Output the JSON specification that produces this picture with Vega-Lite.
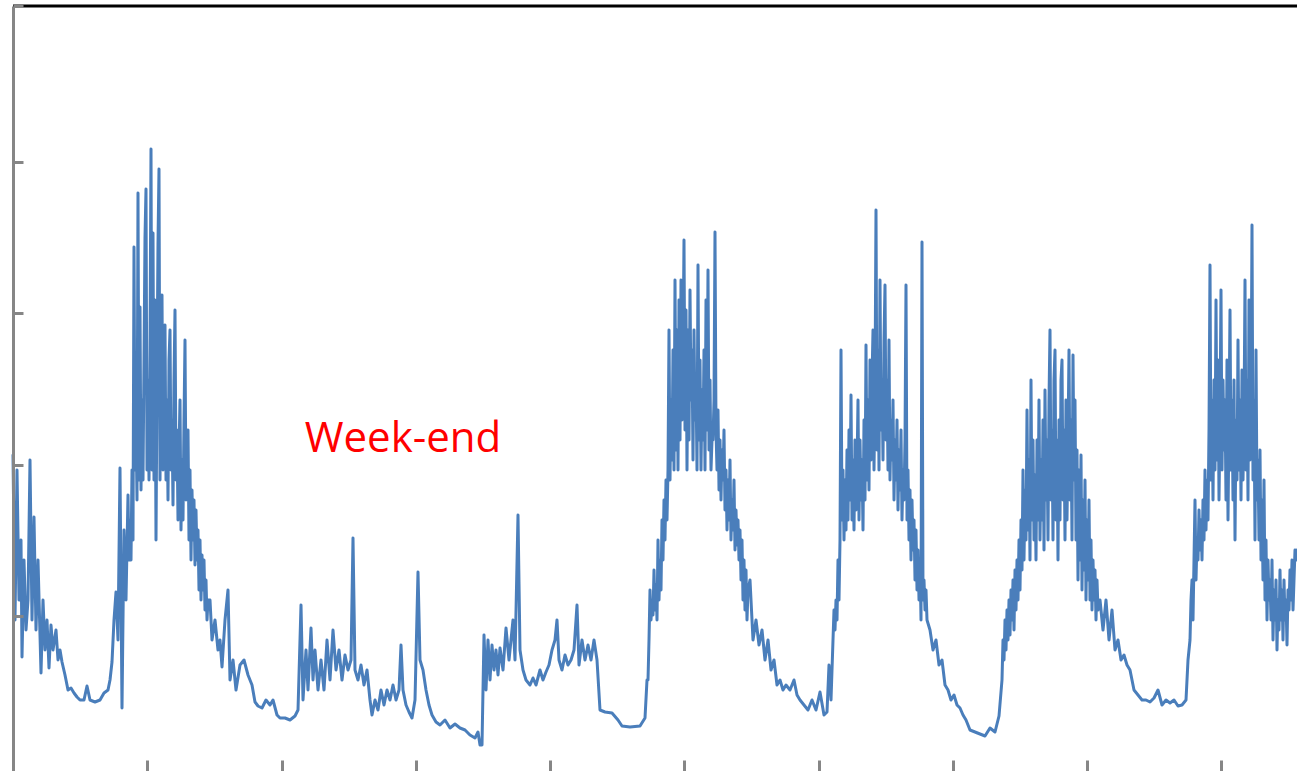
{
  "$schema": "https://vega.github.io/schema/vega-lite/v6.json",
  "width": 1284,
  "height": 766,
  "autosize": {"type": "none"},
  "padding": {"left": 13, "top": 6, "right": 0, "bottom": 0},
  "background": "white",
  "config": {"view": {"stroke": null}},
  "layer": [
    {
      "data": {"values": [{}]},
      "mark": {"type": "rule", "color": "black", "strokeWidth": 3},
      "encoding": {
        "y": {"datum": 1524, "type": "quantitative", "scale": {"domain": [-8, 1524], "nice": false, "zero": false},
          "axis": {"title": null, "labels": false, "grid": false, "domain": true, "domainColor": "#868686", "domainWidth": 3, "ticks": true, "tickSize": -10, "tickWidth": 3, "tickColor": "#868686", "values": [304, 606, 910, 1212, 1524], "zindex": 1}}
      }
    },
    {
      "data": {"values": [
{"t":0,"v":626},{"t":16,"v":296},{"t":32,"v":596},{"t":48,"v":336},{"t":64,"v":456},{"t":72,"v":222},{"t":88,"v":416},{"t":104,"v":276},{"t":120,"v":336},{"t":136,"v":616},{"t":152,"v":296},{"t":168,"v":502},{"t":184,"v":276},{"t":200,"v":416},{"t":224,"v":190},{"t":240,"v":336},{"t":256,"v":236},{"t":272,"v":296},{"t":288,"v":200},{"t":304,"v":286},{"t":320,"v":236},{"t":344,"v":276},{"t":360,"v":216},{"t":376,"v":236},{"t":392,"v":212},{"t":416,"v":186},{"t":440,"v":156},{"t":464,"v":160},{"t":488,"v":150},{"t":512,"v":142},{"t":536,"v":136},{"t":568,"v":136},{"t":592,"v":164},{"t":616,"v":136},{"t":656,"v":132},{"t":696,"v":136},{"t":728,"v":150},{"t":760,"v":156},{"t":776,"v":176},{"t":792,"v":212},{"t":808,"v":296},{"t":824,"v":352},{"t":840,"v":256},{"t":856,"v":600},{"t":872,"v":120},{"t":888,"v":476},{"t":904,"v":336},
{"t":920,"v":546},{"t":928,"v":416},{"t":936,"v":496},{"t":944,"v":416},{"t":952,"v":596},{"t":960,"v":456},{"t":968,"v":1042},{"t":976,"v":596},{"t":984,"v":696},{"t":992,"v":536},{"t":1000,"v":1150},{"t":1008,"v":576},{"t":1016,"v":922},{"t":1024,"v":556},{"t":1032,"v":736},{"t":1040,"v":576},{"t":1048,"v":816},{"t":1056,"v":1062},{"t":1064,"v":1158},{"t":1072,"v":596},{"t":1080,"v":776},{"t":1088,"v":576},{"t":1096,"v":836},{"t":1104,"v":1238},{"t":1112,"v":596},{"t":1120,"v":1070},{"t":1128,"v":576},{"t":1136,"v":936},{"t":1144,"v":456},{"t":1152,"v":776},{"t":1160,"v":1050},{"t":1168,"v":1198},{"t":1176,"v":576},{"t":1184,"v":816},{"t":1192,"v":946},{"t":1200,"v":596},{"t":1208,"v":776},{"t":1216,"v":886},{"t":1224,"v":576},{"t":1232,"v":736},{"t":1240,"v":536},{"t":1248,"v":816},{"t":1256,"v":876},{"t":1264,"v":596},{"t":1272,"v":696},{"t":1280,"v":526},{"t":1288,"v":776},{"t":1296,"v":916},{"t":1304,"v":576},{"t":1312,"v":676},{"t":1320,"v":496},{"t":1328,"v":636},{"t":1336,"v":736},{"t":1344,"v":476},{"t":1352,"v":616},{"t":1360,"v":496},{"t":1368,"v":696},{"t":1376,"v":856},{"t":1384,"v":536},{"t":1392,"v":636},{"t":1400,"v":676},{"t":1408,"v":456},{"t":1416,"v":596},{"t":1424,"v":416},{"t":1432,"v":556},{"t":1440,"v":456},{"t":1448,"v":536},{"t":1456,"v":406},{"t":1464,"v":516},{"t":1472,"v":416},{"t":1480,"v":476},{"t":1488,"v":356},{"t":1496,"v":456},{"t":1504,"v":336},{"t":1512,"v":426},{"t":1520,"v":356},{"t":1528,"v":416},{"t":1536,"v":316},{"t":1544,"v":376},{"t":1552,"v":296},{"t":1560,"v":336},
{"t":1576,"v":336},{"t":1592,"v":256},{"t":1616,"v":296},{"t":1640,"v":236},{"t":1656,"v":256},{"t":1672,"v":202},{"t":1696,"v":296},{"t":1720,"v":356},{"t":1736,"v":176},{"t":1760,"v":216},{"t":1784,"v":156},{"t":1816,"v":206},{"t":1848,"v":216},{"t":1880,"v":186},{"t":1912,"v":166},{"t":1936,"v":132},{"t":1960,"v":124},{"t":1992,"v":120},{"t":2024,"v":136},{"t":2056,"v":126},{"t":2080,"v":136},{"t":2112,"v":106},{"t":2136,"v":100},{"t":2176,"v":100},{"t":2216,"v":96},{"t":2256,"v":104},{"t":2280,"v":116},
{"t":2304,"v":326},{"t":2320,"v":136},{"t":2344,"v":236},{"t":2360,"v":156},{"t":2384,"v":280},{"t":2400,"v":176},{"t":2416,"v":236},{"t":2440,"v":156},{"t":2464,"v":216},{"t":2488,"v":156},{"t":2512,"v":256},{"t":2536,"v":176},{"t":2560,"v":276},{"t":2584,"v":196},{"t":2608,"v":236},{"t":2632,"v":176},{"t":2656,"v":226},{"t":2680,"v":196},{"t":2704,"v":216},{"t":2720,"v":460},{"t":2736,"v":196},{"t":2760,"v":176},{"t":2784,"v":206},{"t":2808,"v":166},{"t":2832,"v":196},{"t":2856,"v":136},{"t":2872,"v":106},{"t":2896,"v":136},{"t":2920,"v":116},{"t":2944,"v":156},{"t":2968,"v":126},{"t":2992,"v":156},{"t":3016,"v":136},{"t":3040,"v":166},{"t":3064,"v":136},{"t":3088,"v":156},{"t":3104,"v":246},{"t":3120,"v":156},{"t":3144,"v":126},{"t":3168,"v":112},{"t":3192,"v":100},{"t":3216,"v":136},{"t":3240,"v":392},{"t":3256,"v":216},{"t":3280,"v":196},{"t":3304,"v":156},{"t":3328,"v":126},{"t":3352,"v":106},{"t":3384,"v":92},{"t":3416,"v":86},{"t":3456,"v":96},{"t":3496,"v":80},{"t":3536,"v":88},{"t":3576,"v":80},{"t":3616,"v":76},{"t":3656,"v":66},{"t":3696,"v":60},{"t":3720,"v":72},{"t":3736,"v":46},{"t":3752,"v":46},{"t":3768,"v":266},
{"t":3784,"v":156},{"t":3800,"v":256},{"t":3816,"v":176},{"t":3832,"v":246},{"t":3848,"v":196},{"t":3864,"v":236},{"t":3880,"v":186},{"t":3896,"v":240},{"t":3920,"v":196},{"t":3944,"v":280},{"t":3968,"v":216},{"t":3984,"v":256},{"t":4000,"v":296},{"t":4016,"v":216},{"t":4040,"v":506},{"t":4056,"v":236},{"t":4080,"v":196},{"t":4104,"v":176},{"t":4136,"v":166},{"t":4160,"v":180},{"t":4184,"v":166},{"t":4216,"v":196},{"t":4240,"v":176},{"t":4264,"v":192},{"t":4288,"v":206},{"t":4312,"v":236},{"t":4336,"v":256},{"t":4352,"v":296},{"t":4368,"v":216},{"t":4392,"v":196},{"t":4416,"v":226},{"t":4440,"v":206},{"t":4464,"v":216},{"t":4488,"v":236},{"t":4512,"v":326},{"t":4528,"v":206},{"t":4552,"v":256},{"t":4576,"v":216},{"t":4600,"v":246},{"t":4624,"v":216},{"t":4648,"v":256},{"t":4672,"v":216},{"t":4696,"v":116},{"t":4736,"v":112},{"t":4792,"v":110},{"t":4840,"v":96},{"t":4872,"v":84},{"t":4936,"v":82},{"t":5016,"v":84},{"t":5056,"v":100},{"t":5072,"v":176},
{"t":5080,"v":176},{"t":5088,"v":256},{"t":5096,"v":356},{"t":5104,"v":296},{"t":5112,"v":336},{"t":5120,"v":306},{"t":5128,"v":396},{"t":5136,"v":316},{"t":5144,"v":366},{"t":5152,"v":296},{"t":5160,"v":456},{"t":5168,"v":336},{"t":5176,"v":416},{"t":5184,"v":356},{"t":5192,"v":496},{"t":5200,"v":416},{"t":5208,"v":536},{"t":5216,"v":456},{"t":5224,"v":576},{"t":5232,"v":496},{"t":5240,"v":596},{"t":5248,"v":876},{"t":5256,"v":576},{"t":5264,"v":736},{"t":5272,"v":616},{"t":5280,"v":836},{"t":5288,"v":596},{"t":5296,"v":976},{"t":5304,"v":636},{"t":5312,"v":876},{"t":5320,"v":596},{"t":5328,"v":936},{"t":5336,"v":656},{"t":5344,"v":976},{"t":5352,"v":696},{"t":5360,"v":816},{"t":5368,"v":1056},{"t":5376,"v":676},{"t":5384,"v":916},{"t":5392,"v":596},{"t":5400,"v":876},{"t":5408,"v":656},{"t":5416,"v":956},{"t":5424,"v":736},{"t":5432,"v":836},{"t":5440,"v":616},{"t":5448,"v":876},{"t":5456,"v":696},{"t":5464,"v":776},{"t":5472,"v":596},{"t":5480,"v":1006},{"t":5488,"v":656},{"t":5496,"v":816},{"t":5504,"v":596},{"t":5512,"v":756},{"t":5520,"v":656},{"t":5528,"v":836},{"t":5536,"v":596},{"t":5544,"v":936},{"t":5552,"v":676},{"t":5560,"v":996},{"t":5568,"v":636},{"t":5576,"v":776},{"t":5584,"v":596},{"t":5592,"v":656},{"t":5600,"v":656},{"t":5608,"v":736},{"t":5616,"v":1072},{"t":5624,"v":676},{"t":5632,"v":596},{"t":5640,"v":716},{"t":5648,"v":556},{"t":5656,"v":656},{"t":5664,"v":536},{"t":5672,"v":636},{"t":5680,"v":576},{"t":5688,"v":676},{"t":5696,"v":516},{"t":5704,"v":596},{"t":5712,"v":476},{"t":5720,"v":576},{"t":5728,"v":496},{"t":5736,"v":616},{"t":5744,"v":456},{"t":5752,"v":536},{"t":5760,"v":476},{"t":5768,"v":576},{"t":5776,"v":436},{"t":5784,"v":516},{"t":5792,"v":446},{"t":5800,"v":496},{"t":5808,"v":416},{"t":5816,"v":476},{"t":5824,"v":376},{"t":5832,"v":456},{"t":5840,"v":336},{"t":5848,"v":416},{"t":5856,"v":316},{"t":5864,"v":396},{"t":5872,"v":296},{"t":5880,"v":356},{"t":5896,"v":376},
{"t":5920,"v":256},{"t":5944,"v":296},{"t":5968,"v":246},{"t":5992,"v":276},{"t":6016,"v":216},{"t":6040,"v":256},{"t":6064,"v":196},{"t":6088,"v":216},{"t":6112,"v":166},{"t":6136,"v":176},{"t":6160,"v":156},{"t":6184,"v":166},{"t":6216,"v":156},{"t":6248,"v":176},{"t":6272,"v":146},{"t":6296,"v":136},{"t":6328,"v":126},{"t":6360,"v":116},{"t":6392,"v":136},{"t":6424,"v":116},{"t":6456,"v":152},{"t":6488,"v":106},{"t":6512,"v":112},{"t":6528,"v":206},{"t":6544,"v":136},
{"t":6560,"v":256},{"t":6568,"v":316},{"t":6576,"v":276},{"t":6584,"v":336},{"t":6592,"v":296},{"t":6600,"v":416},{"t":6608,"v":336},{"t":6616,"v":456},{"t":6624,"v":836},{"t":6632,"v":496},{"t":6640,"v":596},{"t":6648,"v":456},{"t":6656,"v":576},{"t":6664,"v":476},{"t":6672,"v":636},{"t":6680,"v":496},{"t":6688,"v":676},{"t":6696,"v":536},{"t":6704,"v":746},{"t":6712,"v":496},{"t":6720,"v":616},{"t":6728,"v":476},{"t":6736,"v":656},{"t":6744,"v":516},{"t":6752,"v":596},{"t":6760,"v":736},{"t":6768,"v":496},{"t":6776,"v":656},{"t":6784,"v":536},{"t":6792,"v":616},{"t":6800,"v":476},{"t":6808,"v":696},{"t":6816,"v":536},{"t":6824,"v":846},{"t":6832,"v":576},{"t":6840,"v":736},{"t":6848,"v":556},{"t":6856,"v":816},{"t":6864,"v":616},{"t":6872,"v":776},{"t":6880,"v":876},{"t":6888,"v":596},{"t":6896,"v":756},{"t":6904,"v":1116},{"t":6912,"v":636},{"t":6920,"v":836},{"t":6928,"v":596},{"t":6936,"v":976},{"t":6944,"v":676},{"t":6952,"v":776},{"t":6960,"v":616},{"t":6968,"v":856},{"t":6976,"v":966},{"t":6984,"v":656},{"t":6992,"v":776},{"t":7000,"v":596},{"t":7008,"v":856},{"t":7016,"v":576},{"t":7024,"v":696},{"t":7032,"v":616},{"t":7040,"v":736},{"t":7048,"v":536},{"t":7056,"v":656},{"t":7064,"v":576},{"t":7072,"v":696},{"t":7080,"v":516},{"t":7088,"v":636},{"t":7096,"v":556},{"t":7104,"v":676},{"t":7112,"v":496},{"t":7120,"v":596},{"t":7128,"v":536},{"t":7136,"v":656},{"t":7144,"v":966},{"t":7152,"v":496},{"t":7160,"v":596},{"t":7168,"v":456},{"t":7176,"v":556},{"t":7184,"v":416},{"t":7192,"v":536},{"t":7200,"v":436},{"t":7208,"v":496},{"t":7216,"v":376},{"t":7224,"v":476},{"t":7232,"v":356},{"t":7240,"v":436},{"t":7248,"v":336},{"t":7256,"v":416},{"t":7264,"v":296},{"t":7272,"v":1052},{"t":7280,"v":336},{"t":7288,"v":376},{"t":7296,"v":316},{"t":7304,"v":356},{"t":7312,"v":296},
{"t":7336,"v":276},{"t":7360,"v":236},{"t":7384,"v":256},{"t":7408,"v":206},{"t":7432,"v":216},{"t":7456,"v":166},{"t":7480,"v":156},{"t":7504,"v":136},{"t":7528,"v":146},{"t":7552,"v":126},{"t":7576,"v":120},{"t":7600,"v":106},{"t":7624,"v":96},{"t":7656,"v":76},{"t":7696,"v":72},{"t":7736,"v":68},{"t":7776,"v":64},{"t":7816,"v":80},{"t":7856,"v":72},{"t":7888,"v":104},
{"t":7912,"v":176},{"t":7920,"v":256},{"t":7928,"v":216},{"t":7936,"v":296},{"t":7944,"v":236},{"t":7952,"v":316},{"t":7960,"v":256},{"t":7968,"v":336},{"t":7976,"v":266},{"t":7984,"v":356},{"t":7992,"v":296},{"t":8000,"v":376},{"t":8008,"v":276},{"t":8016,"v":396},{"t":8024,"v":316},{"t":8032,"v":416},{"t":8040,"v":336},{"t":8048,"v":456},{"t":8056,"v":356},{"t":8064,"v":496},{"t":8072,"v":396},{"t":8080,"v":596},{"t":8088,"v":416},{"t":8096,"v":556},{"t":8104,"v":456},{"t":8112,"v":716},{"t":8120,"v":476},{"t":8128,"v":616},{"t":8136,"v":416},{"t":8144,"v":776},{"t":8152,"v":496},{"t":8160,"v":656},{"t":8168,"v":456},{"t":8176,"v":586},{"t":8184,"v":416},{"t":8192,"v":656},{"t":8200,"v":496},{"t":8208,"v":736},{"t":8216,"v":456},{"t":8224,"v":616},{"t":8232,"v":496},{"t":8240,"v":696},{"t":8248,"v":436},{"t":8256,"v":756},{"t":8264,"v":536},{"t":8272,"v":656},{"t":8280,"v":456},{"t":8288,"v":736},{"t":8296,"v":876},{"t":8304,"v":536},{"t":8312,"v":676},{"t":8320,"v":456},{"t":8328,"v":776},{"t":8336,"v":836},{"t":8344,"v":496},{"t":8352,"v":656},{"t":8360,"v":416},{"t":8368,"v":696},{"t":8376,"v":496},{"t":8384,"v":776},{"t":8392,"v":816},{"t":8400,"v":536},{"t":8408,"v":676},{"t":8416,"v":456},{"t":8424,"v":736},{"t":8432,"v":496},{"t":8440,"v":656},{"t":8448,"v":836},{"t":8456,"v":536},{"t":8464,"v":696},{"t":8472,"v":456},{"t":8480,"v":826},{"t":8488,"v":576},{"t":8496,"v":736},{"t":8504,"v":456},{"t":8512,"v":636},{"t":8520,"v":376},{"t":8528,"v":596},{"t":8536,"v":416},{"t":8544,"v":626},{"t":8552,"v":356},{"t":8560,"v":536},{"t":8568,"v":396},{"t":8576,"v":576},{"t":8584,"v":336},{"t":8592,"v":496},{"t":8600,"v":376},{"t":8608,"v":536},{"t":8616,"v":336},{"t":8624,"v":456},{"t":8632,"v":316},{"t":8640,"v":416},{"t":8648,"v":336},{"t":8656,"v":396},{"t":8664,"v":296},{"t":8672,"v":376},{"t":8680,"v":316},
{"t":8696,"v":336},{"t":8720,"v":276},{"t":8744,"v":336},{"t":8768,"v":256},{"t":8792,"v":316},{"t":8816,"v":236},{"t":8840,"v":256},{"t":8864,"v":216},{"t":8888,"v":226},{"t":8912,"v":206},{"t":8936,"v":196},{"t":8968,"v":156},{"t":9000,"v":146},{"t":9032,"v":136},{"t":9064,"v":136},{"t":9096,"v":132},{"t":9128,"v":140},{"t":9160,"v":156},{"t":9192,"v":126},{"t":9224,"v":136},{"t":9256,"v":130},{"t":9288,"v":136},{"t":9320,"v":124},{"t":9352,"v":126},{"t":9384,"v":136},{"t":9400,"v":216},
{"t":9416,"v":256},{"t":9424,"v":336},{"t":9432,"v":376},{"t":9440,"v":296},{"t":9448,"v":416},{"t":9456,"v":536},{"t":9464,"v":376},{"t":9472,"v":456},{"t":9480,"v":416},{"t":9488,"v":516},{"t":9496,"v":436},{"t":9504,"v":496},{"t":9512,"v":416},{"t":9520,"v":536},{"t":9528,"v":456},{"t":9536,"v":596},{"t":9544,"v":476},{"t":9552,"v":576},{"t":9560,"v":496},{"t":9568,"v":676},{"t":9576,"v":1006},{"t":9584,"v":576},{"t":9592,"v":736},{"t":9600,"v":536},{"t":9608,"v":776},{"t":9616,"v":596},{"t":9624,"v":936},{"t":9632,"v":616},{"t":9640,"v":816},{"t":9648,"v":536},{"t":9656,"v":696},{"t":9664,"v":956},{"t":9672,"v":596},{"t":9680,"v":776},{"t":9688,"v":636},{"t":9696,"v":736},{"t":9704,"v":536},{"t":9712,"v":816},{"t":9720,"v":496},{"t":9728,"v":696},{"t":9736,"v":916},{"t":9744,"v":596},{"t":9752,"v":736},{"t":9760,"v":536},{"t":9768,"v":776},{"t":9776,"v":456},{"t":9784,"v":696},{"t":9792,"v":576},{"t":9800,"v":856},{"t":9808,"v":596},{"t":9816,"v":736},{"t":9824,"v":536},{"t":9832,"v":796},{"t":9840,"v":576},{"t":9848,"v":696},{"t":9856,"v":976},{"t":9864,"v":596},{"t":9872,"v":776},{"t":9880,"v":536},{"t":9888,"v":936},{"t":9896,"v":616},{"t":9904,"v":696},{"t":9912,"v":1086},{"t":9920,"v":576},{"t":9928,"v":736},{"t":9936,"v":456},{"t":9944,"v":836},{"t":9952,"v":536},{"t":9960,"v":616},{"t":9968,"v":456},{"t":9976,"v":636},{"t":9984,"v":416},{"t":9992,"v":536},{"t":10000,"v":376},{"t":10008,"v":576},{"t":10016,"v":336},{"t":10024,"v":456},{"t":10032,"v":296},{"t":10040,"v":416},{"t":10048,"v":336},{"t":10056,"v":376},{"t":10064,"v":296},{"t":10072,"v":416},{"t":10080,"v":256},{"t":10088,"v":356},{"t":10096,"v":296},{"t":10104,"v":376},{"t":10112,"v":236},{"t":10120,"v":336},{"t":10128,"v":276},{"t":10136,"v":396},{"t":10144,"v":296},{"t":10152,"v":356},{"t":10160,"v":256},{"t":10168,"v":376},{"t":10176,"v":296},{"t":10184,"v":336},{"t":10192,"v":246},{"t":10200,"v":356},{"t":10208,"v":316},{"t":10216,"v":396},{"t":10224,"v":336},{"t":10232,"v":416},{"t":10240,"v":316},{"t":10248,"v":376},{"t":10256,"v":436},{"t":10264,"v":416},{"t":10272,"v":436}
      ]},
      "mark": {"type": "line", "color": "#4a7ebb", "strokeWidth": 3, "strokeJoin": "round", "strokeCap": "round"},
      "encoding": {
        "x": {"field": "t", "type": "quantitative",
          "scale": {"domain": [0, 10272], "nice": false, "zero": false},
          "axis": {"title": null, "labels": false, "domain": false, "grid": false, "ticks": true, "tickSize": -12, "tickWidth": 3, "tickColor": "#868686", "values": [1074, 2148, 3222, 4296, 5370, 6444, 7518, 8592, 9666], "zindex": 1}},
        "y": {"field": "v", "type": "quantitative",
          "scale": {"domain": [-8, 1524], "nice": false, "zero": false},
          "axis": {"title": null, "labels": false, "grid": false, "domain": true, "domainColor": "#868686", "domainWidth": 3, "ticks": true, "tickSize": -10, "tickWidth": 3, "tickColor": "#868686", "values": [304, 606, 910, 1212, 1524], "zindex": 1}}
      }
    },
    {
      "data": {"values": [{}]},
      "mark": {"type": "text", "text": "Week-end", "color": "#ff0000", "font": "Open Sans", "fontSize": 42, "align": "center", "baseline": "alphabetic"},
      "encoding": {
        "x": {"datum": 3120, "type": "quantitative", "scale": {"domain": [0, 10272], "nice": false, "zero": false},
          "axis": {"title": null, "labels": false, "domain": false, "grid": false, "ticks": true, "tickSize": -12, "tickWidth": 3, "tickColor": "#868686", "values": [1074, 2148, 3222, 4296, 5370, 6444, 7518, 8592, 9666], "zindex": 1}},
        "y": {"datum": 632, "type": "quantitative", "scale": {"domain": [-8, 1524], "nice": false, "zero": false},
          "axis": {"title": null, "labels": false, "grid": false, "domain": true, "domainColor": "#868686", "domainWidth": 3, "ticks": true, "tickSize": -10, "tickWidth": 3, "tickColor": "#868686", "values": [304, 606, 910, 1212, 1524], "zindex": 1}}
      }
    }
  ]
}
